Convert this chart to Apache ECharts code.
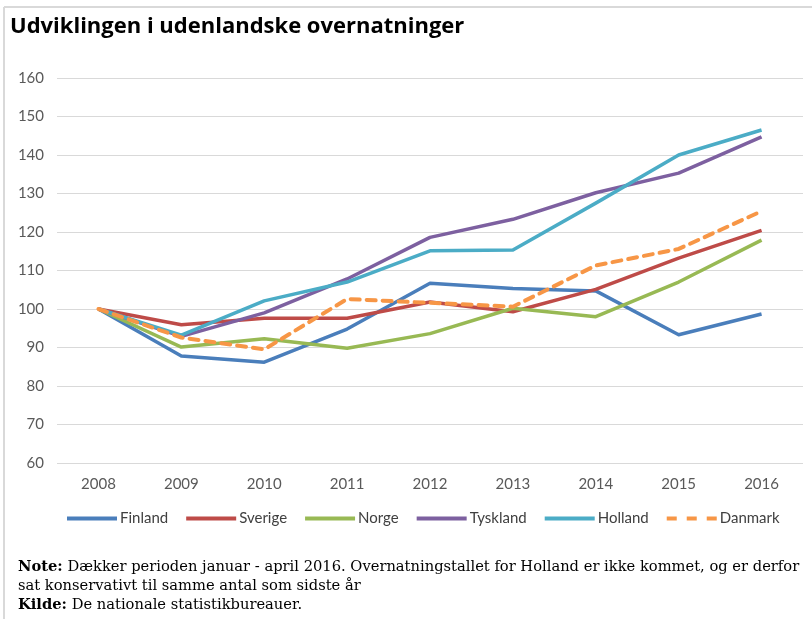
<!DOCTYPE html>
<html>
<head>
<meta charset="utf-8">
<script src="https://cdn.jsdelivr.net/npm/echarts@6/dist/echarts.min.js"></script>
<style>
  html, body { margin: 0; padding: 0; background: #fff; }
  #chart { width: 812px; height: 619px; }
</style>
</head>
<body>
<div id="chart"></div>
<script>
// data
var years = ["2008", "2009", "2010", "2011", "2012", "2013", "2014", "2015", "2016"];
var finland  = [100, 87.8, 86.2, 94.8, 106.7, 105.3, 104.7, 93.3, 98.7];
var sverige  = [100, 95.9, 97.6, 97.6, 101.8, 99.3, 105.1, 113.2, 120.4];
var norge    = [100, 90.1, 92.3, 89.8, 93.6, 100.2, 98.0, 107.0, 117.9];
var tyskland = [100, 92.9, 99.0, 107.8, 118.6, 123.3, 130.2, 135.3, 144.7];
var holland  = [100, 93.2, 102.1, 107.0, 115.1, 115.3, 127.5, 140.0, 146.5];
var danmark  = [100, 92.6, 89.5, 102.6, 101.6, 100.6, 111.3, 115.6, 125.4];

var names  = ["Finland", "Sverige", "Norge", "Tyskland", "Holland", "Danmark"];
var values = [finland, sverige, norge, tyskland, holland, danmark];
var colors = ["#4a7ebb", "#be4b48", "#98b954", "#7d60a0", "#4bacc6", "#f79646"];

// dashed legend key (3 dashes + gaps)
var dashIcon = "path://M0,0 L10,0 L10,4 L0,4 Z M20,0 L30,0 L30,4 L20,4 Z M40,0 L50,0 L50,4 L40,4 Z";

var myChart = echarts.init(document.getElementById("chart"));

var series = names.map(function (n, i) {
  var dashed = n === "Danmark";
  return {
    name: n,
    type: "line",
    data: values[i],
    symbol: "none",
    z: dashed ? 10 : 2,
    lineStyle: {
      color: colors[i],
      width: dashed ? 4 : 3.5,
      type: dashed ? [9, 7] : "solid",
      cap: dashed ? "round" : "butt",
      join: "round"
    },
    itemStyle: { color: colors[i] }
  };
});

myChart.setOption({
  animation: false,
  color: colors,
  textStyle: { fontFamily: "Lato" },
  grid: { left: 57, right: 9, top: 78, bottom: 156, containLabel: false },
  xAxis: {
    type: "category",
    data: years,
    boundaryGap: true,
    axisLine: { show: false },
    axisTick: { show: false },
    axisLabel: { color: "#595959", fontSize: 15, margin: 14, fontFamily: "Lato" }
  },
  yAxis: {
    type: "value",
    min: 60,
    max: 160,
    interval: 10,
    axisLine: { show: false },
    axisTick: { show: false },
    axisLabel: { color: "#595959", fontSize: 15, margin: 13, fontFamily: "Lato" },
    splitLine: { lineStyle: { color: "#d9d9d9", width: 1 } }
  },
  legend: {
    data: names.map(function (n) {
      return { name: n, icon: n === "Danmark" ? dashIcon : "rect" };
    }),
    left: 62,
    top: 506,
    itemWidth: 50,
    itemHeight: 4,
    itemGap: 18,
    symbolKeepAspect: false,
    textStyle: { color: "#404040", fontSize: 15, fontFamily: "Lato", padding: [0, 0, 0, -2] }
  },
  graphic: [
    {
      type: "line",
      shape: { x1: 4, y1: 7, x2: 812, y2: 7 },
      style: { stroke: "#d9d9d9", lineWidth: 2 }
    },
    {
      type: "line",
      shape: { x1: 4, y1: 7, x2: 4, y2: 619 },
      style: { stroke: "#d9d9d9", lineWidth: 2 }
    },
    {
      type: "text",
      left: 10,
      top: 16,
      style: {
        text: "Udviklingen i udenlandske overnatninger",
        font: "bold 22px 'Open Sans'",
        fill: "#000"
      }
    },
    {
      type: "text",
      left: 18,
      top: 558,
      style: {
        text: "{b|Note:} Dækker perioden januar - april 2016. Overnatningstallet for Holland er ikke kommet, og er derfor\nsat konservativt til samme antal som sidste år\n{b|Kilde:} De nationale statistikbureauer.",
        font: "14.7px 'DejaVu Serif'",
        fill: "#000",
        lineHeight: 19,
        rich: {
          b: { fontWeight: "bold", fontSize: 14.7, fontFamily: "DejaVu Serif", lineHeight: 19 }
        }
      }
    }
  ],
  series: series
});
</script>
</body>
</html>
